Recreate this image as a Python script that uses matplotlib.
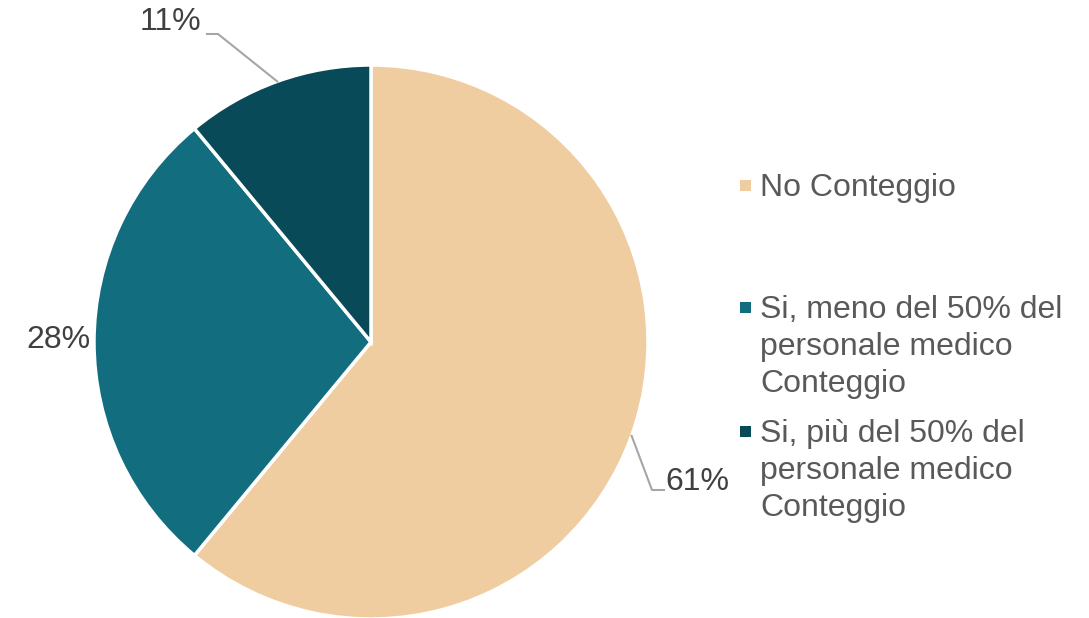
import numpy as np
import matplotlib
matplotlib.use("Agg")
import matplotlib.pyplot as plt
from matplotlib.patches import Rectangle

plt.rcParams['font.family'] = ['Liberation Sans', 'DejaVu Sans']

# data
categories = ["No Conteggio",
              "Si, meno del 50% del\npersonale medico\nConteggio",
              "Si, più del 50% del\npersonale medico\nConteggio"]
values = [61, 28, 11]
colors = ["#F0CDA0", "#126E7F", "#084A57"]

W, H = 1089, 618
fig = plt.figure(figsize=(W / 100, H / 100), dpi=100)

# pie centre (371, 342), radius 277 px
cx, cy, r = 371, 342, 277
ax = fig.add_axes([(cx - r) / W, (H - cy - r) / H, 2 * r / W, 2 * r / H])
wedges, _ = ax.pie(values, colors=colors, startangle=90, counterclock=False,
                   wedgeprops=dict(edgecolor="white", linewidth=2.5))
ax.set_xlim(-1, 1)
ax.set_ylim(-1, 1)
ax.set_aspect("equal")
ax.axis("off")

# percentage labels (pixel positions of label centre, leader knee)
label_pos = [(697, 482), (58, 340), (170, 22)]
knees = [((652, 490), (664, 490)), None, ((218, 34), (207, 34))]


def px(p):
    return ((p[0] - cx) / r, (cy - p[1]) / r)


total = sum(values)
for w, v, lp, kn in zip(wedges, values, label_pos, knees):
    x, y = px(lp)
    ax.text(x, y, f"{round(100 * v / total)}%", ha="center", va="center",
            fontsize=23, color="#404040", clip_on=False)
    if kn is not None:
        mid = np.deg2rad((w.theta1 + w.theta2) / 2)
        k1, k2 = px(kn[0]), px(kn[1])
        ax.plot([np.cos(mid), k1[0], k2[0]], [np.sin(mid), k1[1], k2[1]],
                color="#A6A6A6", lw=1.5, clip_on=False)

# legend drawn by hand to match Excel layout
baselines = [196, 318, 442]
line_step = 37
for lab, col, by in zip(categories, colors, baselines):
    for i, line in enumerate(lab.split("\n")):
        fig.text(760 / W, 1 - (by + i * line_step) / H, line, ha="left",
                 va="baseline", fontsize=23, color="#595959")
    fig.patches.append(Rectangle((740 / W, 1 - (by - 5) / H), 11 / W, 11 / H,
                                 transform=fig.transFigure, facecolor=col,
                                 edgecolor="none"))

fig.savefig("out.png", dpi=100)
